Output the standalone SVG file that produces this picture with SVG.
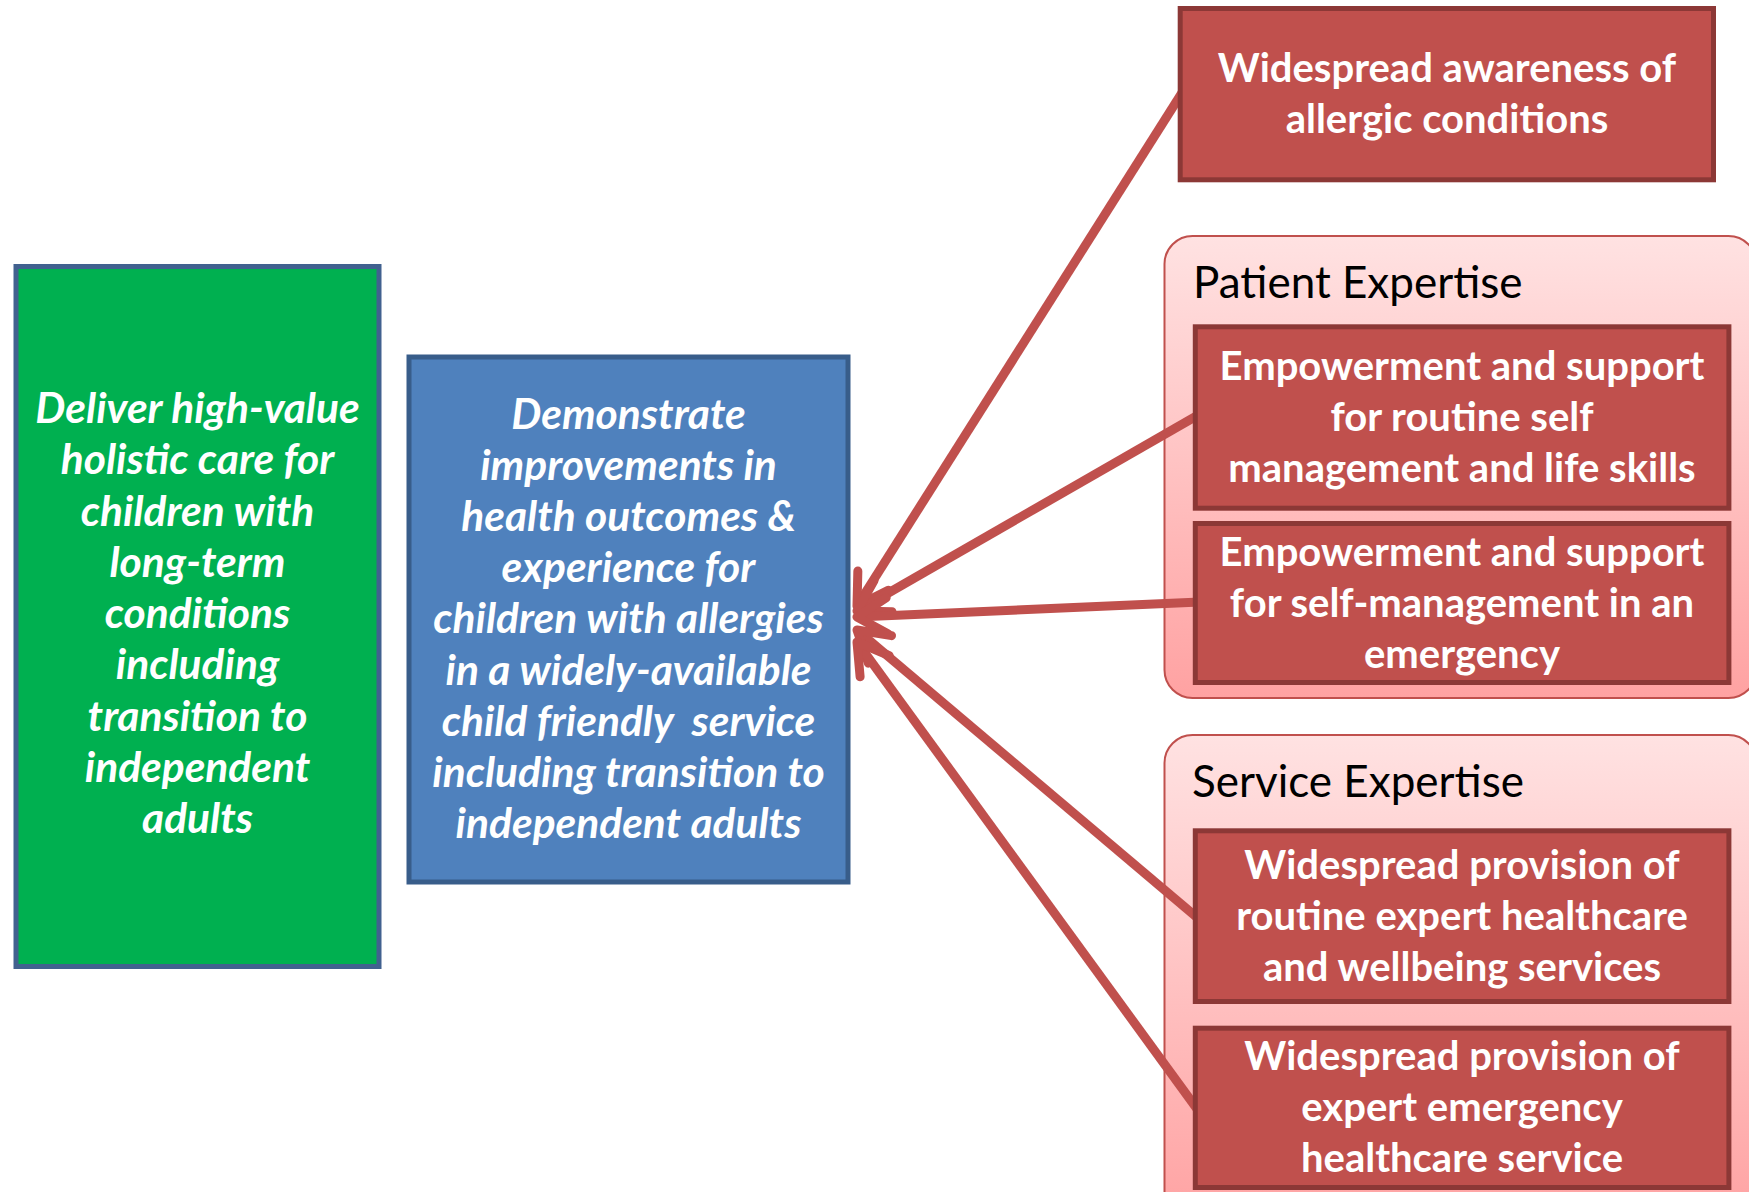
<svg xmlns="http://www.w3.org/2000/svg" width="1749" height="1192" viewBox="0 0 1749 1192">
<defs>
<linearGradient id="pinkGrad" x1="0" y1="0" x2="0" y2="1">
<stop offset="0" stop-color="#FFE2E2"/>
<stop offset="1" stop-color="#FFA2A2"/>
</linearGradient>
<marker id="openArrow" markerUnits="userSpaceOnUse" orient="auto" viewBox="-40 -25 45 50" markerWidth="45" markerHeight="50" refX="0" refY="0">
<path d="M-30,-18 L0,0 L-30,18" fill="none" stroke="#C0504D" stroke-width="9" stroke-linecap="round" stroke-linejoin="round"/>
</marker>
</defs>
<style>
.redbox{fill:#C0504D;stroke:#8C3836;stroke-width:5}
.container{fill:url(#pinkGrad);stroke:#C0504D;stroke-width:2}
.wt{fill:#FFFFFF;font-family:Lato,"Open Sans","DejaVu Sans",sans-serif;font-weight:bold;font-size:40px;text-anchor:middle}
.it{font-style:italic;font-size:42.5px}
.title{fill:#000000;font-family:Lato,"Open Sans","DejaVu Sans",sans-serif;font-size:44px}
.conn{fill:none;stroke:#C0504D;stroke-width:9;stroke-linecap:butt;marker-end:url(#openArrow)}
</style>
<rect width="1749" height="1192" fill="#FFFFFF"/>
<text x="945" y="-5" style="font-family:Lato,'Open Sans',sans-serif;font-size:30px;fill:#000">g</text>

<g id="patient-expertise-container">
<rect class="container" x="1164.5" y="236" width="592" height="462" rx="28" ry="28"/>
<text class="title" x="1193" y="298">Patient Expertise</text>
</g>
<g id="service-expertise-container">
<rect class="container" x="1164.5" y="735" width="592" height="490" rx="28" ry="28"/>
<text class="title" x="1192" y="797">Service Expertise</text>
</g>

<g id="connectors">
<line class="conn" x1="1185" y1="88" x2="857" y2="606"/>
<line class="conn" x1="1200" y1="414" x2="857" y2="611"/>
<line class="conn" x1="1200" y1="602" x2="857" y2="617"/>
<line class="conn" x1="1200" y1="920" x2="857" y2="630"/>
<line class="conn" x1="1200" y1="1113" x2="857" y2="642"/>
</g>

<g id="goal">
<rect x="16" y="266.5" width="363" height="700" fill="#00B050" stroke="#41618F" stroke-width="5"/>
<text class="wt it" x="197.5" y="423">Deliver high-value</text>
<text class="wt it" x="197.5" y="474.25">holistic care for</text>
<text class="wt it" x="197.5" y="525.5">children with</text>
<text class="wt it" x="197.5" y="576.75">long-term</text>
<text class="wt it" x="197.5" y="628">conditions</text>
<text class="wt it" x="197.5" y="679.25">including</text>
<text class="wt it" x="197.5" y="730.5">transition to</text>
<text class="wt it" x="197.5" y="781.75">independent</text>
<text class="wt it" x="197.5" y="833">adults</text>
</g>

<g id="outcome">
<rect x="409" y="357" width="439" height="525" fill="#4F81BD" stroke="#385D8A" stroke-width="5"/>
<text class="wt it" x="628.5" y="428.5">Demonstrate</text>
<text class="wt it" x="628.5" y="479.7">improvements in</text>
<text class="wt it" x="628.5" y="530.9">health outcomes &amp;</text>
<text class="wt it" x="628.5" y="582.1">experience for</text>
<text class="wt it" x="628.5" y="633.3">children with allergies</text>
<text class="wt it" x="628.5" y="684.5">in a widely-available</text>
<text class="wt it" x="628.5" y="735.7" xml:space="preserve">child friendly  service</text>
<text class="wt it" x="628.5" y="786.9">including transition to</text>
<text class="wt it" x="628.5" y="838.1">independent adults</text>
</g>

<g id="awareness">
<rect class="redbox" x="1180.2" y="8.5" width="533.3" height="171.3"/>
<text class="wt" x="1447" y="81.5">Widespread awareness of</text>
<text class="wt" x="1447" y="132.7">allergic conditions</text>
</g>

<g id="routine-self-management">
<rect class="redbox" x="1195.3" y="326.8" width="533.6" height="181.4"/>
<text class="wt" x="1462" y="380">Empowerment and support</text>
<text class="wt" x="1462" y="431.2">for routine self</text>
<text class="wt" x="1462" y="482.4">management and life skills</text>
</g>

<g id="emergency-self-management">
<rect class="redbox" x="1195.3" y="523.5" width="533.6" height="159"/>
<text class="wt" x="1462" y="565.5">Empowerment and support</text>
<text class="wt" x="1462" y="616.7">for self-management in an</text>
<text class="wt" x="1462" y="667.9">emergency</text>
</g>

<g id="routine-healthcare">
<rect class="redbox" x="1195.3" y="830.8" width="533.6" height="170.7"/>
<text class="wt" x="1462" y="878.5">Widespread provision of</text>
<text class="wt" x="1462" y="929.7">routine expert healthcare</text>
<text class="wt" x="1462" y="980.9">and wellbeing services</text>
</g>

<g id="emergency-healthcare">
<rect class="redbox" x="1195.3" y="1028.2" width="533.6" height="159.3"/>
<text class="wt" x="1462" y="1069.7">Widespread provision of</text>
<text class="wt" x="1462" y="1120.9">expert emergency</text>
<text class="wt" x="1462" y="1172.1">healthcare service</text>
</g>
</svg>
